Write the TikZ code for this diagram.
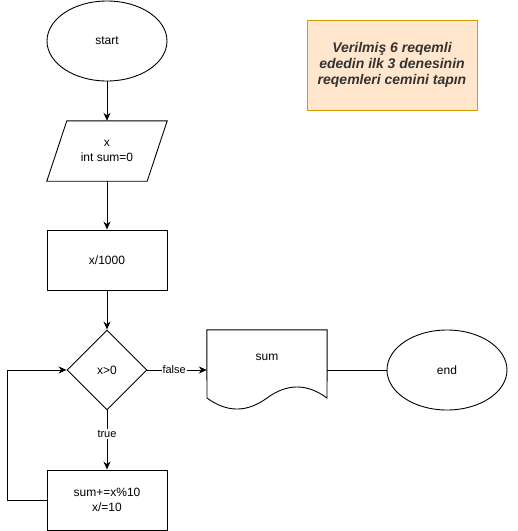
\documentclass[tikz,border=0pt]{standalone}
\usepackage{fontspec}
\setmainfont{Liberation Sans}
\usetikzlibrary{shapes.geometric,arrows.meta}
\definecolor{noteFill}{HTML}{FFE6CC}
\definecolor{noteLine}{HTML}{D79B00}
\definecolor{noteText}{HTML}{333333}
\begin{document}
\begin{tikzpicture}[x=1pt,y=-1pt,
  every node/.style={font=\fontsize{12}{15}\selectfont, align=center, inner sep=0pt},
  term/.style={ellipse, draw, line width=0.9pt, minimum width=120pt, minimum height=80pt},
  procbox/.style={rectangle, draw, line width=0.9pt, minimum width=120pt, minimum height=60pt},
  decide/.style={diamond, draw, line width=0.9pt, minimum width=80pt, minimum height=80pt, aspect=1},
  plainbox/.style={rectangle, minimum width=120pt, minimum height=60pt},
  flow/.style={line width=0.9pt, -{Stealth[length=8pt,width=7pt]}},
  link/.style={line width=0.9pt},
  edgelbl/.style={font=\fontsize{11}{13}\selectfont, fill=white, inner sep=1pt},
  note/.style={rectangle, draw=noteLine, fill=noteFill, line width=0.9pt,
    minimum width=170pt, minimum height=90pt, text=noteText,
    font=\fontsize{14}{16}\selectfont\bfseries\itshape}
]
\useasboundingbox (0,0) rectangle (518,531);

% terminals
\node[term] (start) at (107,41) {start};
\node[term] (end) at (447,370) {end};

% input parallelogram
\node[plainbox] (inp) at (107,151) {x\\int sum=0};
\draw[line width=0.9pt] ([xshift=20pt]inp.north west) -- (inp.north east)
  -- ([xshift=-20pt]inp.south east) -- (inp.south west) -- cycle;

% processing steps
\node[procbox] (div) at (107,260) {x/1000};
\node[decide] (cond) at (107,370) {x>0};
\node[procbox] (body) at (107,500) {sum+=x\%10\\x/=10};

% output document
\node[rectangle, minimum width=120pt, minimum height=80pt] (out) at (267,370) {};
\node at (267,357) {sum};
\draw[line width=0.9pt] (out.north west) -- (out.north east) -- (327,398)
  .. controls (307,383.3) and (287,383.3) .. (267,398)
  .. controls (247,412.7) and (227,412.7) .. (207,398) -- cycle;

% note
\node[note] (memo) at (392,65) {Verilmiş 6 reqemli\\ededin ilk 3 denesinin\\reqemleri cemini tapın};

% connectors
\draw[flow] (start) -- (inp.north);
\draw[flow] (inp.south) -- (div);
\draw[flow] (div) -- (cond);
\draw[flow] (cond.south) -- node[edgelbl, pos=0.4] {true} (body.north);
\draw[flow] (cond.east) -- node[edgelbl, pos=0.45] {false} (out.west);
\draw[link] (out.east) -- (end.west);
\coordinate (loopA) at (7,500);
\coordinate (loopB) at (7,370);
\draw[flow] (body.west) -- (loopA) -- (loopB) -- (cond.west);
\end{tikzpicture}
\end{document}
